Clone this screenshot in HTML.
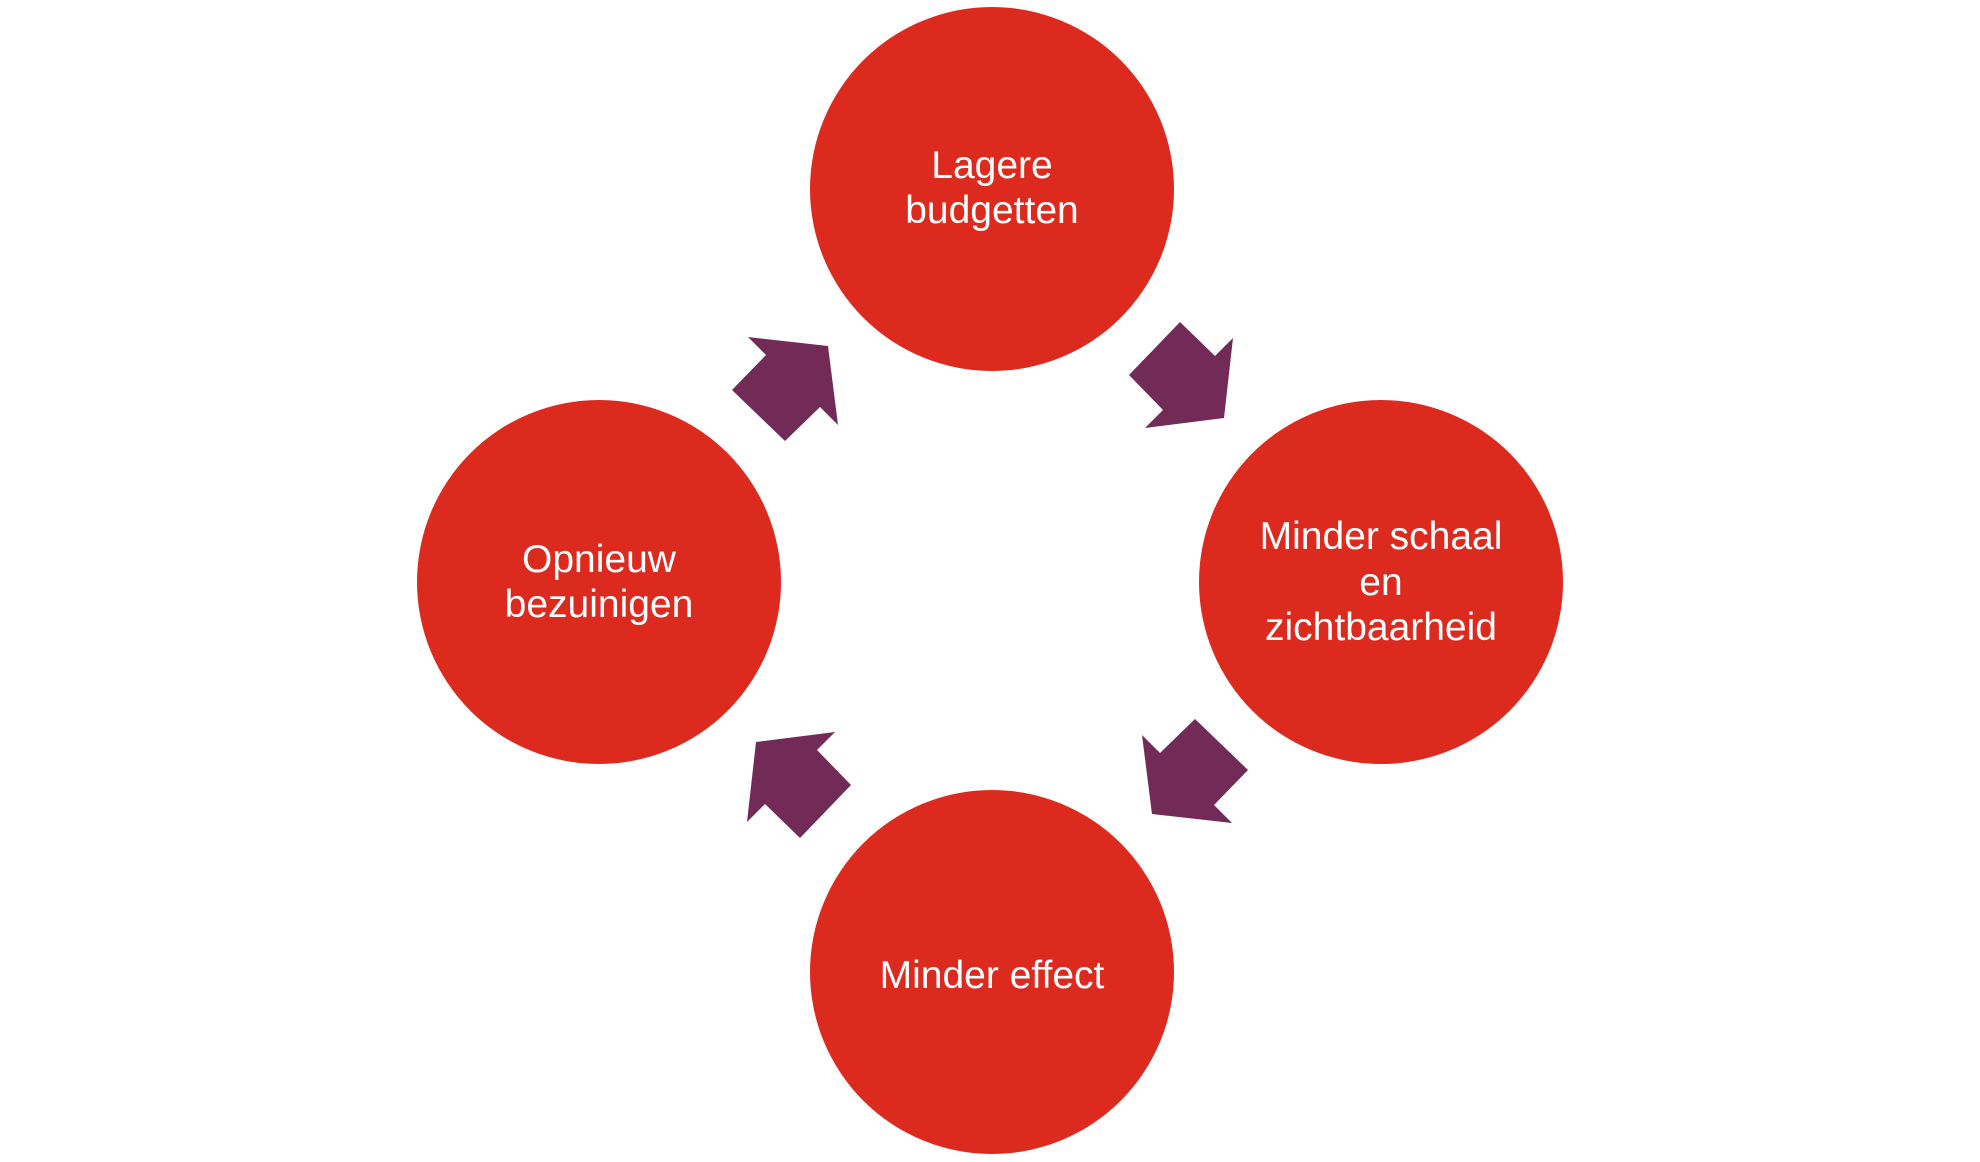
<!DOCTYPE html>
<html><head><meta charset="utf-8"><style>
html,body{margin:0;padding:0;background:#fff;width:1980px;height:1162px;overflow:hidden}
</style></head><body>
<svg width="1980" height="1162" viewBox="0 0 1980 1162" xmlns="http://www.w3.org/2000/svg">
<g fill="#DC2A1F">
<circle cx="992" cy="189" r="182"/>
<circle cx="1381" cy="582" r="182"/>
<circle cx="992" cy="972" r="182"/>
<circle cx="599" cy="582" r="182"/>
</g>
<g fill="#722A57" transform="translate(990,580)">
<polygon points="190,-258 225,-224 243,-242 234,-162 155,-152 173,-170 139,-205"/>
<polygon points="190,-258 225,-224 243,-242 234,-162 155,-152 173,-170 139,-205" transform="rotate(90)"/>
<polygon points="190,-258 225,-224 243,-242 234,-162 155,-152 173,-170 139,-205" transform="rotate(180)"/>
<polygon points="190,-258 225,-224 243,-242 234,-162 155,-152 173,-170 139,-205" transform="rotate(270)"/>
</g>
<g fill="#fff" font-family="Liberation Sans, sans-serif" font-size="39" text-anchor="middle">
<text x="992" y="178">Lagere</text>
<text x="992" y="223">budgetten</text>
<text x="1381" y="549">Minder schaal</text>
<text x="1381" y="595">en</text>
<text x="1381" y="640">zichtbaarheid</text>
<text x="992" y="988">Minder effect</text>
<text x="599" y="572">Opnieuw</text>
<text x="599" y="617">bezuinigen</text>
</g>
</svg>
</body></html>
